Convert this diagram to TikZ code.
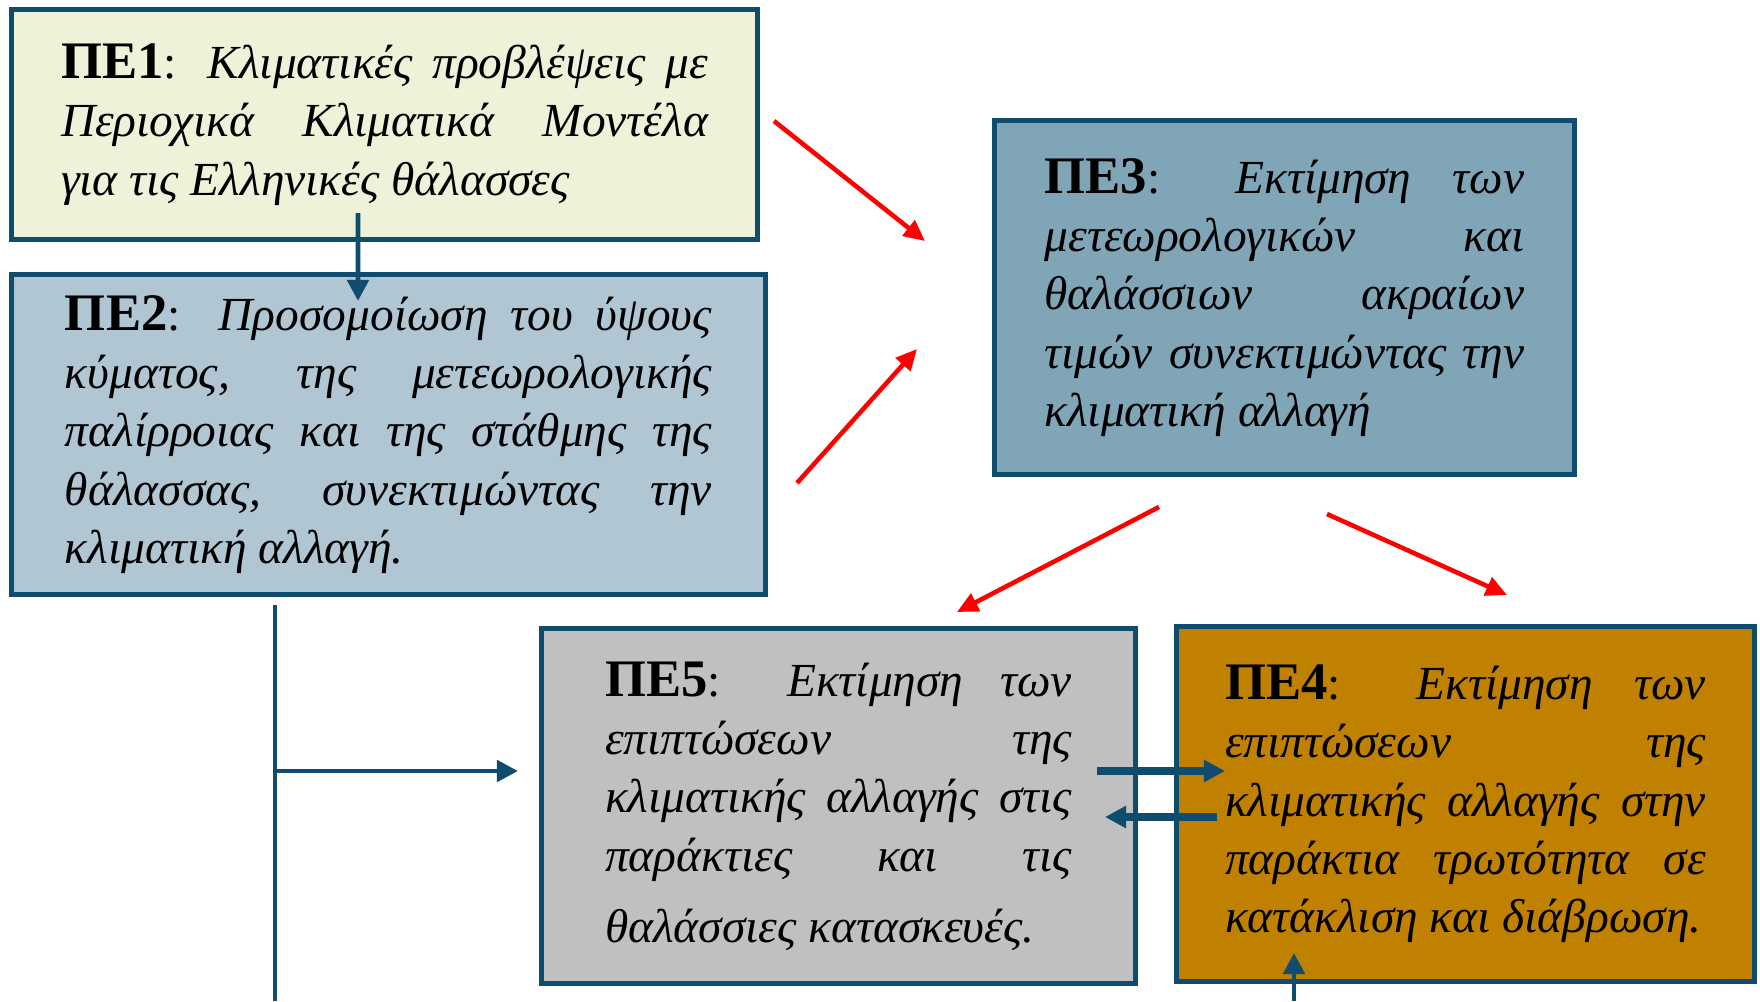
\documentclass[tikz,border=0pt]{standalone}
\usepackage{fontspec}
\setmainfont{Liberation Serif}
\usetikzlibrary{arrows.meta}
\definecolor{peborder}{HTML}{0F4C6E}
\definecolor{peone}{HTML}{EEF2D9}
\definecolor{petwo}{HTML}{B0C7D3}
\definecolor{pethree}{HTML}{7FA5B7}
\definecolor{pefive}{HTML}{C0C0C0}
\definecolor{pefour}{HTML}{C08000}
\newcommand{\petag}[1]{{\upshape\bfseries\fontsize{15}{16.5}\selectfont ΠΕ#1}{\upshape:}}

\begin{document}
\begin{tikzpicture}[
  pebox/.style={draw=peborder, line width=0.05cm, align=justify, inner sep=0pt,
    font=\fontsize{13.5}{16.6}\selectfont\itshape},
  link/.style={peborder, line width=1.4pt},
  linkarrow/.style={link, -{Triangle[length=6pt,width=6pt]}},
  redarrow/.style={red, line width=1.3pt, -{Triangle[length=6pt,width=5.5pt]}}
]
  \useasboundingbox (0,0) rectangle (17.6,-10.01);
  \node[pebox, fill=peone, text width=6.47cm, minimum width=7.46cm, minimum height=2.30cm] (pe1) at (3.845,-1.245)
    {\petag{1} Κλιματικές προβλέψεις με\linebreak Περιοχικά Κλιματικά Μοντέλα\linebreak για τις Ελληνικές θάλασσες};
  \node[pebox, fill=petwo, text width=6.47cm, minimum width=7.54cm, minimum height=3.20cm] (pe2) at (3.885,-4.345)
    {\petag{2} Προσομοίωση του ύψους\linebreak κύματος, της μετεωρολογικής\linebreak παλίρροιας και της στάθμης της\linebreak θάλασσας, συνεκτιμώντας την\linebreak κλιματική αλλαγή.};
  \node[pebox, fill=pethree, text width=4.80cm, minimum width=5.80cm, minimum height=3.54cm] (pe3) at (12.845,-2.975)
    {\petag{3} Εκτίμηση των\linebreak μετεωρολογικών και\linebreak θαλάσσιων ακραίων\linebreak τιμών συνεκτιμώντας την\linebreak κλιματική αλλαγή};
  \node[pebox, fill=pefive, text width=4.67cm, minimum width=5.94cm, minimum height=3.55cm] (pe5) at (8.385,-8.06)
    {\petag{5} Εκτίμηση των\linebreak επιπτώσεων της\linebreak κλιματικής αλλαγής στις\linebreak παράκτιες και τις\vspace{0.13cm}\linebreak θαλάσσιες κατασκευές.};
  \node[pebox, fill=pefour, text width=4.81cm, minimum width=5.78cm, minimum height=3.55cm] (pe4) at (14.655,-8.04)
    {\petag{4} Εκτίμηση των\linebreak επιπτώσεων της\linebreak κλιματικής αλλαγής στην\linebreak παράκτια τρωτότητα σε\linebreak κατάκλιση και διάβρωση.};

  % blue links
  \draw[linkarrow] ([shift={(-0.265,0.29)}]pe1.south) -- ([shift={(-0.305,-0.29)}]pe2.north);
  \coordinate (pe2foot) at ([shift={(-1.135,-0.08)}]pe2.south);
  \coordinate (pe2end) at (pe2foot |- 0,-10.01);
  \draw[link] (pe2foot) -- (pe2end);
  \coordinate (pe5in) at ([shift={(-0.21,0.35)}]pe5.west);
  \draw[linkarrow] (pe2foot |- pe5in) -- (pe5in);
  \draw[linkarrow, line width=2.2pt] ([shift={(-0.41,0.35)}]pe5.east) -- ([shift={(0.51,0.33)}]pe4.west);
  \draw[linkarrow, line width=2.2pt] ([shift={(0.43,-0.13)}]pe4.west) -- ([shift={(-0.33,-0.11)}]pe5.east);
  \coordinate (pe4in) at ([shift={(-1.715,0.31)}]pe4.south);
  \draw[linkarrow] (pe4in |- pe2end) -- (pe4in);

  % red arrows
  \draw[redarrow] ([shift={(0.14,0.035)}]pe1.east) -- ([shift={(-0.67,0.565)}]pe3.west);
  \draw[redarrow] ([shift={(0.29,-0.485)}]pe2.east) -- ([shift={(-0.75,-0.515)}]pe3.west);
  \draw[redarrow] ([shift={(-1.255,-0.30)}]pe3.south) -- ([shift={(1.185,0.14)}]pe5.north);
  \draw[redarrow] ([shift={(0.425,-0.37)}]pe3.south) -- ([shift={(0.415,0.29)}]pe4.north);
\end{tikzpicture}
\end{document}
